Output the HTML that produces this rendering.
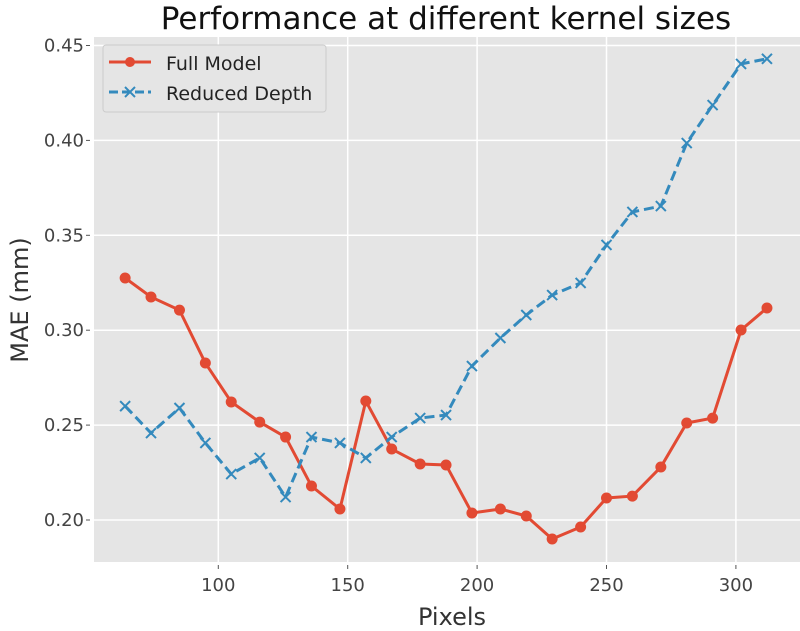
<!DOCTYPE html>
<html><head><meta charset="utf-8"><style>
body{margin:0;background:#fff;}
svg{display:block;font-family:"DejaVu Sans","Liberation Sans",sans-serif;}
</style></head><body>
<svg id="chart" width="800" height="631">
<text x="446" y="29" font-size="31" text-anchor="middle" fill="#111">Performance at different kernel sizes</text>
<rect x="94" y="37" width="706" height="525" fill="#e5e5e5"/>
<g id="grid"></g>
<g id="ticks"></g>
<g id="series"></g>
<text x="452" y="625" font-size="24" text-anchor="middle" fill="#333">Pixels</text>
<text transform="translate(28,300) rotate(-90)" font-size="24" text-anchor="middle" fill="#333">MAE (mm)</text>
<g>
<rect x="103" y="45" width="223" height="67" rx="3" fill="#e5e5e5" stroke="#ccc" stroke-width="1"/>
<g>
<line x1="109" y1="62" x2="151" y2="62" stroke="#e24a33" stroke-width="3"/>
<circle cx="130" cy="62" r="5" fill="#e24a33"/>
<text x="166" y="70" font-size="19" fill="#222">Full Model</text>
</g>
<g>
<line x1="109" y1="92" x2="151" y2="92" stroke="#348abd" stroke-width="3" stroke-dasharray="9,4"/>
<path d="M125 87 L135 97 M135 87 L125 97" stroke="#348abd" stroke-width="2"/>
<text x="166" y="100" font-size="19" fill="#222">Reduced Depth</text>
</g>
</g>
</svg>
<script>
const xValues=[64,74,85,95,105,116,126,136,147,157,167,178,188,198,209,219,229,240,250,260,271,281,291,302,312];
const fullModel=[0.3275,0.3175,0.3106,0.2827,0.2622,0.2516,0.2437,0.2179,0.2058,0.2627,0.2374,0.2295,0.229,0.2037,0.2058,0.2021,0.19,0.1963,0.2116,0.2126,0.2279,0.2511,0.2537,0.3001,0.3117];
const reducedDepth=[0.26,0.2458,0.259,0.2406,0.2242,0.2327,0.2121,0.2437,0.2406,0.2327,0.2437,0.2537,0.2553,0.2811,0.2959,0.308,0.3185,0.3249,0.3449,0.3623,0.3654,0.3986,0.4186,0.4403,0.443];
const xTicks=[100,150,200,250,300];
const yTicks=[0.20,0.25,0.30,0.35,0.40,0.45];
const NS="http://www.w3.org/2000/svg";
function sx(v){return -40.5+v*2.588;}
function sy(v){return 520-(v-0.20)*1898;}
function mk(tag,attrs,parent){const e=document.createElementNS(NS,tag);for(const k in attrs)e.setAttribute(k,attrs[k]);parent.appendChild(e);return e;}
const grid=document.getElementById('grid'),ticks=document.getElementById('ticks'),series=document.getElementById('series');
xTicks.forEach(t=>{
 const l=mk('line',{x1:sx(t),x2:sx(t),y1:37,y2:562,stroke:'#fff','stroke-width':1.5},grid);
 
 
 mk('line',{x1:sx(t),x2:sx(t),y1:565,y2:569,stroke:'#555'},ticks);
 const tx=mk('text',{x:sx(t),y:591,'font-size':18,'text-anchor':'middle',fill:'#444'},ticks);
 tx.textContent=t;
 
 
});
yTicks.forEach(t=>{
 const l=mk('line',{x1:94,x2:800,y1:sy(t),y2:sy(t),stroke:'#fff','stroke-width':1.5},grid);
 
 
 mk('line',{x1:86,x2:90,y1:sy(t),y2:sy(t),stroke:'#555'},ticks);
 const tx=mk('text',{x:84,y:sy(t)+6,'font-size':18,'text-anchor':'end',fill:'#444'},ticks);
 tx.textContent=t.toFixed(2);
 
 
});
const p1=mk('polyline',{points:xValues.map((x,i)=>sx(x)+','+sy(fullModel[i])).join(' '),fill:'none',stroke:'#e24a33','stroke-width':3},series);


xValues.forEach((x,i)=>{
 const c=mk('circle',{cx:sx(x),cy:sy(fullModel[i]),r:5.5,fill:'#e24a33'},series);
 
 
});
const p2=mk('polyline',{points:xValues.map((x,i)=>sx(x)+','+sy(reducedDepth[i])).join(' '),fill:'none',stroke:'#348abd','stroke-width':3,'stroke-dasharray':'10,5'},series);


xValues.forEach((x,i)=>{
 const X=sx(x),Y=sy(reducedDepth[i]);
 const m=mk('path',{d:`M${X-5} ${Y-5} L${X+5} ${Y+5} M${X+5} ${Y-5} L${X-5} ${Y+5}`,stroke:'#348abd','stroke-width':2},series);
 
 
});
</script>
</body></html>
